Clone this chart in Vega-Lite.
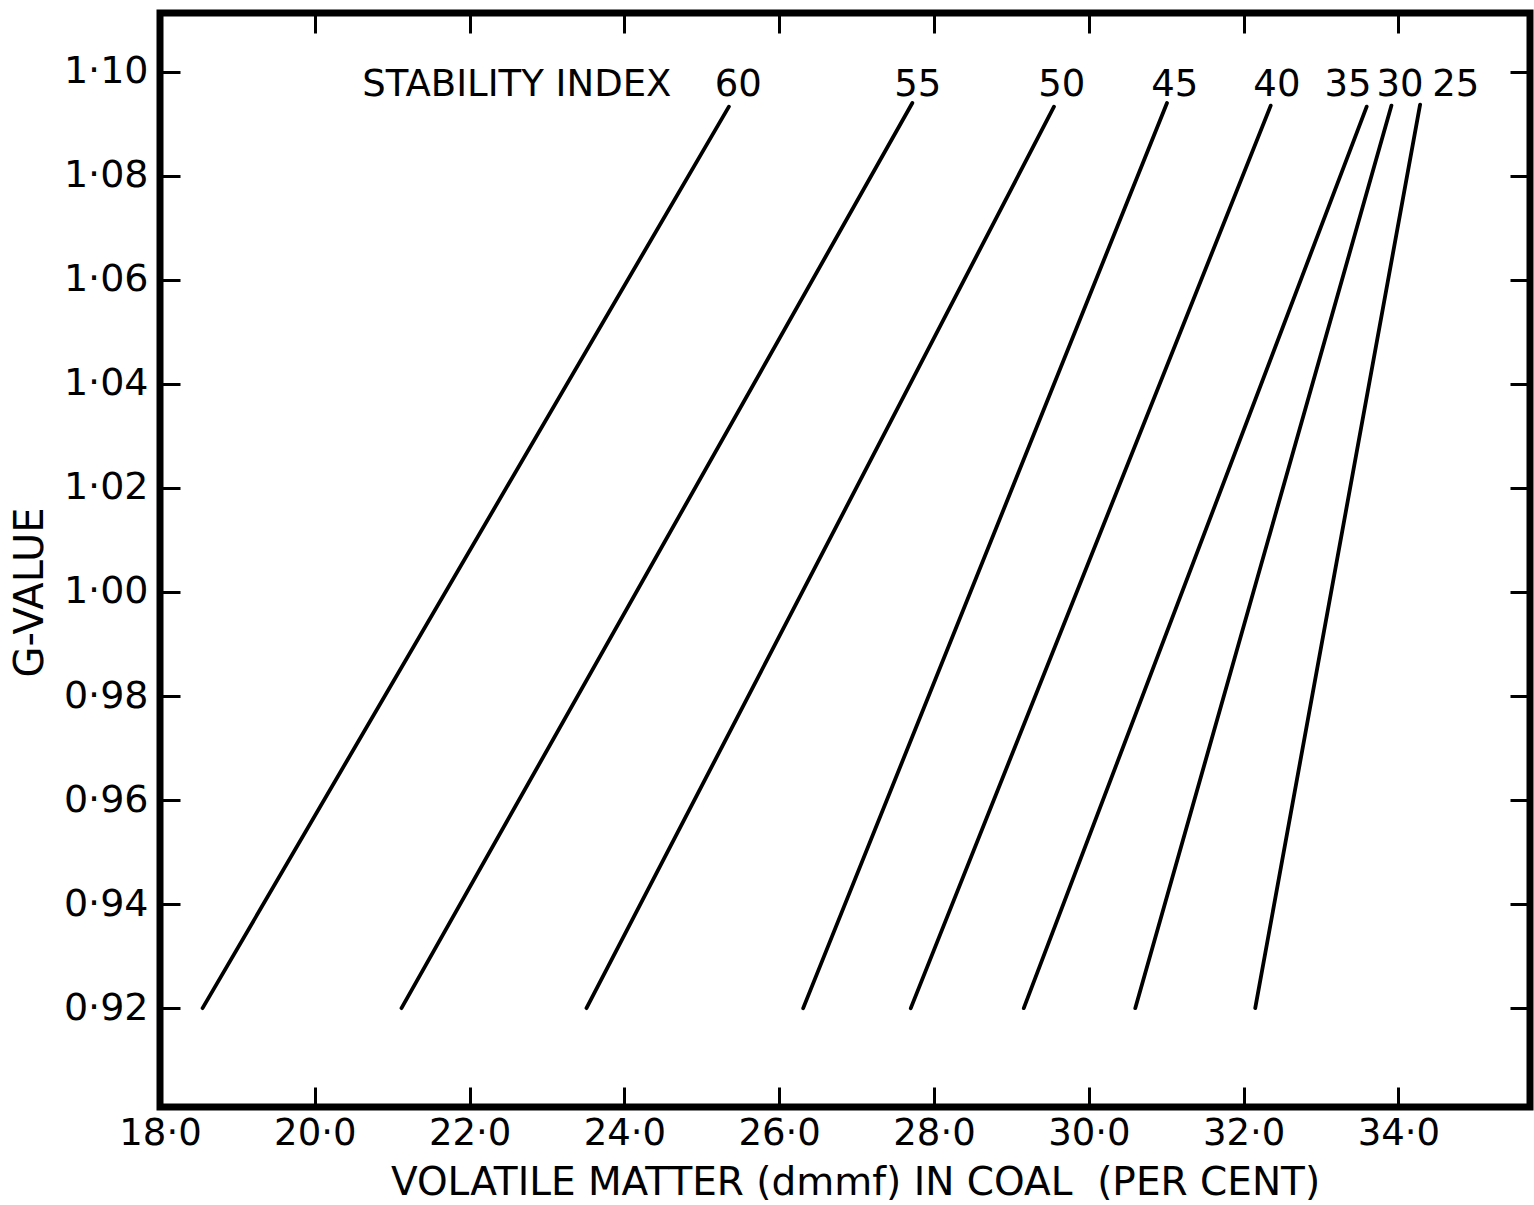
{
  "$schema": "https://vega.github.io/schema/vega-lite/v6.json",
  "width": 1370,
  "height": 1094,
  "autosize": {"type": "none"},
  "padding": {"left": 160, "top": 13, "right": 4, "bottom": 98},
  "config": {
    "view": {"stroke": "black", "strokeWidth": 7},
    "font": "DejaVu Sans",
    "axis": {"grid": false, "domain": false, "tickColor": "black", "tickWidth": 3, "labelColor": "black", "titleColor": "black", "labelFont": "DejaVu Sans", "titleFont": "DejaVu Sans", "titleFontWeight": "normal", "labelFlush": false, "labelOverlap": false}
  },
  "datasets": {
    "lines": [
      {"si": "60", "vm": 18.55, "g": 0.92}, {"si": "60", "vm": 25.35, "g": 1.0933},
      {"si": "55", "vm": 21.12, "g": 0.92}, {"si": "55", "vm": 27.72, "g": 1.0940},
      {"si": "50", "vm": 23.51, "g": 0.92}, {"si": "50", "vm": 29.55, "g": 1.0933},
      {"si": "45", "vm": 26.31, "g": 0.92}, {"si": "45", "vm": 31.01, "g": 1.0940},
      {"si": "40", "vm": 27.70, "g": 0.92}, {"si": "40", "vm": 32.35, "g": 1.0935},
      {"si": "35", "vm": 29.16, "g": 0.92}, {"si": "35", "vm": 33.59, "g": 1.0933},
      {"si": "30", "vm": 30.60, "g": 0.92}, {"si": "30", "vm": 33.91, "g": 1.0935},
      {"si": "25", "vm": 32.15, "g": 0.92}, {"si": "25", "vm": 34.28, "g": 1.0937}
    ],
    "labels": [
      {"text": "STABILITY INDEX", "vm": 22.61, "g": 1.0975},
      {"text": "60", "vm": 25.47, "g": 1.0975},
      {"text": "55", "vm": 27.79, "g": 1.0975},
      {"text": "50", "vm": 29.65, "g": 1.0975},
      {"text": "45", "vm": 31.11, "g": 1.0975},
      {"text": "40", "vm": 32.43, "g": 1.0975},
      {"text": "35", "vm": 33.35, "g": 1.0975},
      {"text": "30", "vm": 34.02, "g": 1.0975},
      {"text": "25", "vm": 34.74, "g": 1.0975}
    ]
  },
  "layer": [
    {
      "data": {"name": "lines"},
      "mark": {"type": "line", "color": "black", "strokeWidth": 3.8, "strokeCap": "round"},
      "encoding": {
        "x": {
          "field": "vm", "type": "quantitative",
          "scale": {"domain": [18, 35.7], "zero": false, "nice": false},
          "axis": {
            "orient": "bottom",
            "values": [18, 20, 22, 24, 26, 28, 30, 32, 34],
            "labelExpr": "replace(format(datum.value, '.1f'), '.', '·')",
            "tickSize": -20,
            "labelPadding": 28,
            "labelFontSize": 37,
            "title": "VOLATILE MATTER (dmmf) IN COAL\u00a0\u00a0(PER CENT)",
            "titleFontSize": 39,
            "titleX": 695,
            "titleY": 75,
            "titleBaseline": "middle",
            "titleAnchor": "middle",
            "titleAlign": "center"
          }
        },
        "y": {
          "field": "g", "type": "quantitative",
          "scale": {"domain": [0.901, 1.1113], "zero": false, "nice": false},
          "axis": {
            "orient": "left",
            "values": [0.92, 0.94, 0.96, 0.98, 1.0, 1.02, 1.04, 1.06, 1.08, 1.1],
            "labelExpr": "replace(format(datum.value, '.2f'), '.', '·')",
            "tickSize": -20,
            "labelPadding": 32,
            "labelFontSize": 38,
            "title": "G-VALUE",
            "titleFontSize": 40,
            "titleX": -130,
            "titleY": 579,
            "titleAngle": -90,
            "titleBaseline": "middle",
            "titleAlign": "center",
            "titleAnchor": "middle"
          }
        },
        "detail": {"field": "si"}
      }
    },
    {
      "data": {"name": "labels"},
      "mark": {"type": "text", "color": "black", "fontSize": 37, "align": "center", "baseline": "middle", "font": "DejaVu Sans"},
      "encoding": {
        "x": {
          "field": "vm", "type": "quantitative",
          "axis": {"orient": "top", "values": [20, 22, 24, 26, 28, 30, 32, 34], "labels": false, "tickSize": -20, "title": null}
        },
        "y": {
          "field": "g", "type": "quantitative",
          "axis": {"orient": "right", "values": [0.92, 0.94, 0.96, 0.98, 1.0, 1.02, 1.04, 1.06, 1.08, 1.1], "labels": false, "tickSize": -20, "title": null}
        },
        "text": {"field": "text"}
      }
    }
  ],
  "resolve": {"axis": {"x": "independent", "y": "independent"}}
}
